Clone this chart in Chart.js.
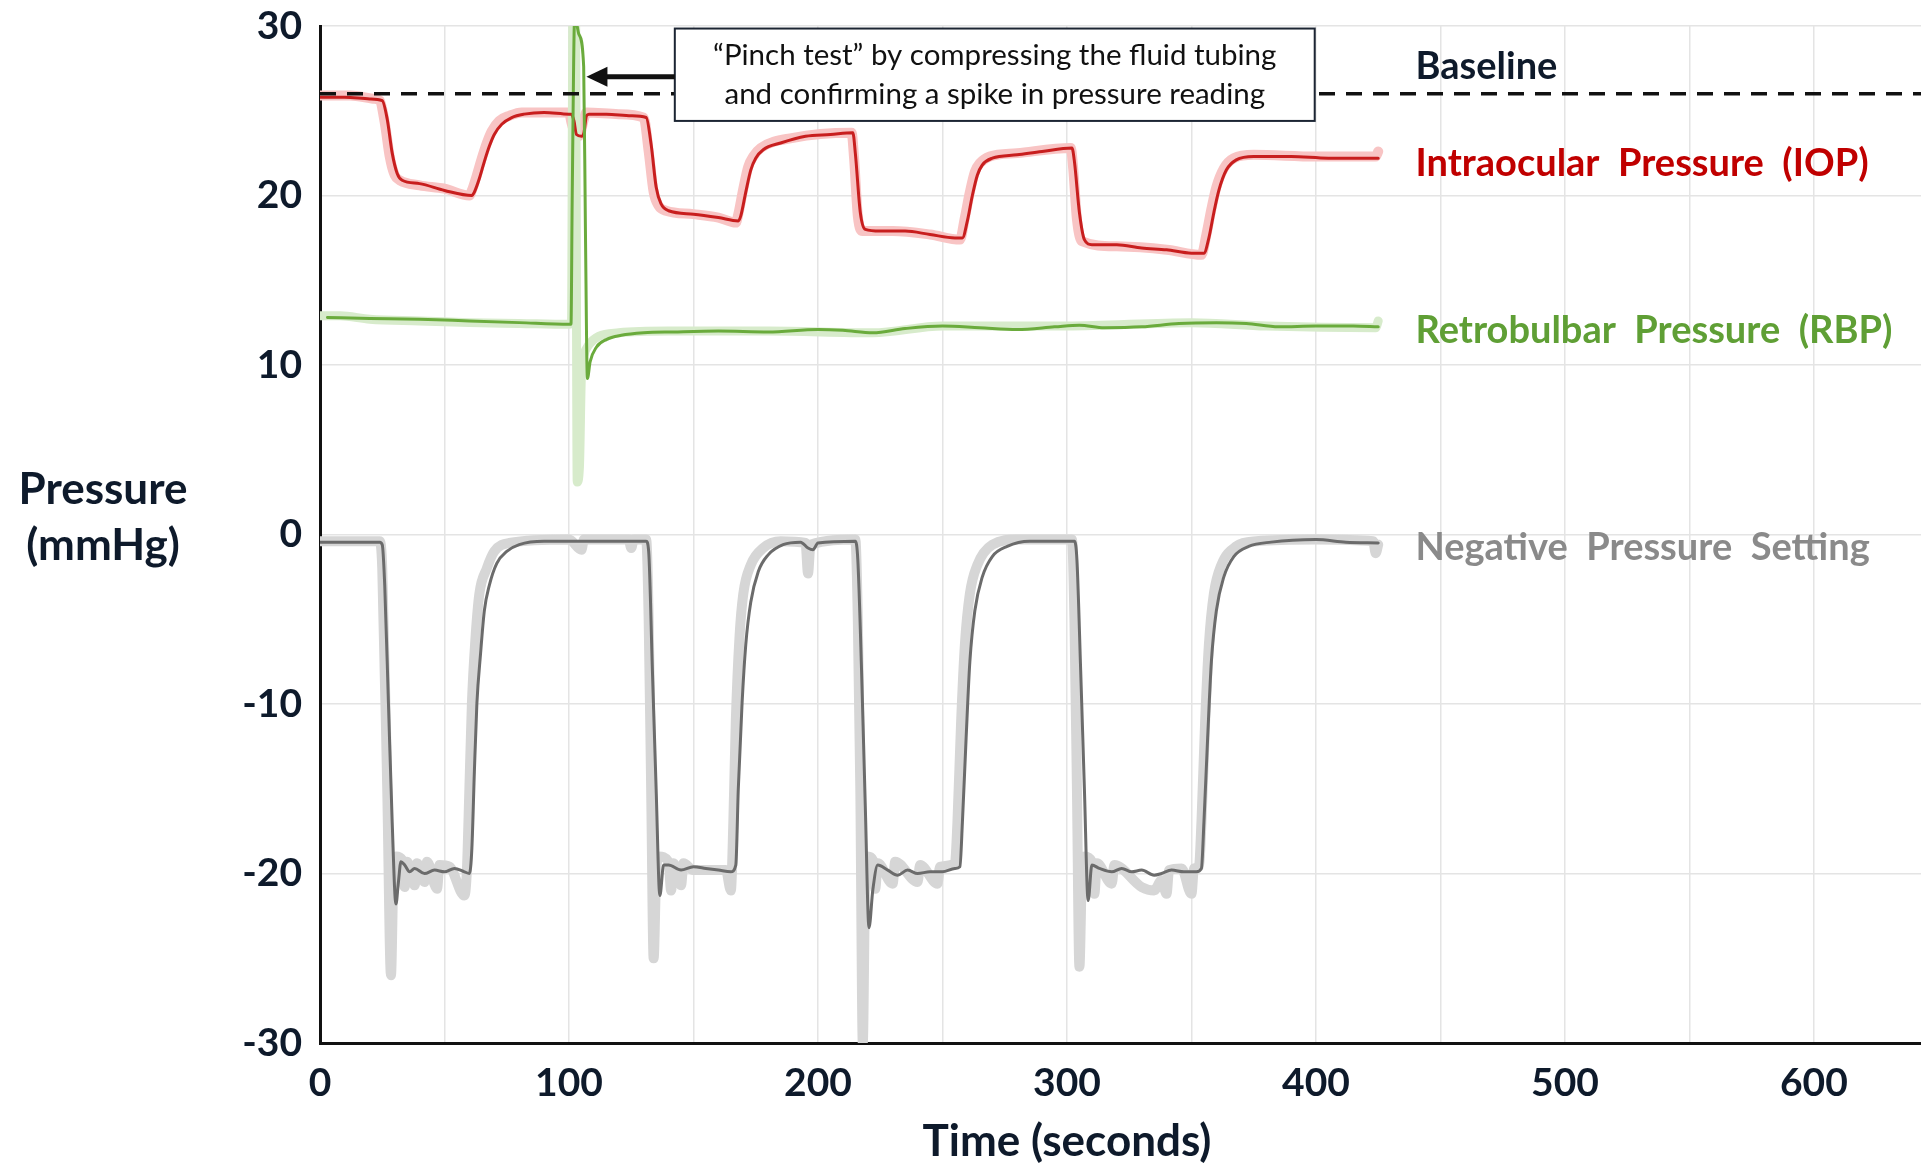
<!DOCTYPE html>
<html>
<head>
<meta charset="utf-8">
<script src="https://cdn.jsdelivr.net/npm/chart.js@4.4.0/dist/chart.umd.min.js"></script>
<style>
  html, body { margin: 0; padding: 0; background: #fff; overflow: hidden; }
  #wrap { width: 1921px; height: 1165px; }
</style>
</head>
<body>
<div id="wrap"><canvas id="pressure_chart" width="1921" height="1165"></canvas></div>
<script>
//Intraocular pressure (filtered line)
const iopTime = [0, 10, 20, 25, 27, 29, 31, 33, 40, 50,
  61, 62, 64, 66, 68, 70, 73, 77, 82, 90,
  100, 101, 102, 103, 105, 106, 107, 108, 115, 125,
  131, 133, 135, 137, 140, 150, 160, 168, 169, 171,
  173, 175, 178, 185, 195, 205, 214, 215, 217, 219,
  225, 235, 245, 255, 258, 260, 262, 264, 266, 270,
  280, 290, 302, 303, 305, 307, 310, 320, 330, 340,
  350, 355, 357, 359, 361, 364, 368, 375, 390, 405,
  425];
const iopVal = [25.8, 25.8, 25.7, 25.6, 24.5, 22.5, 21.3, 20.9, 20.7, 20.3,
  20.0, 20.2, 21.0, 22.0, 22.9, 23.6, 24.2, 24.6, 24.8, 24.9,
  24.8, 24.8, 24.4, 23.6, 23.5, 23.7, 24.7, 24.8, 24.8, 24.7,
  24.6, 23.0, 20.5, 19.5, 19.1, 18.9, 18.7, 18.5, 18.8, 20.2,
  21.5, 22.2, 22.7, 23.1, 23.5, 23.6, 23.7, 22.5, 19.0, 18.0,
  17.9, 17.9, 17.7, 17.5, 17.5, 18.5, 20.0, 21.2, 21.8, 22.2,
  22.4, 22.6, 22.8, 22.0, 19.0, 17.4, 17.1, 17.1, 16.9, 16.8,
  16.6, 16.6, 17.5, 19.0, 20.3, 21.5, 22.1, 22.3, 22.3, 22.2,
  22.2];

//Intraocular pressure (raw trace)
const iopRawTime = [0, 12, 22, 24, 26, 28, 30, 32, 40, 50,
  60, 61, 63, 65, 67, 69, 72, 76, 81, 100,
  101, 102, 104, 106, 107, 120, 130, 132, 134, 136,
  139, 150, 160, 167, 168, 170, 172, 174, 177, 190,
  213.5, 214.5, 216, 218, 230, 245, 257, 259, 261, 263,
  265, 269, 280, 301.5, 302.5, 304, 306, 320, 340, 354,
  356, 358, 360, 363, 367, 375, 400, 424, 425];
const iopRawVal = [25.9, 25.9, 25.7, 25.6, 24.3, 22.3, 21.2, 20.9, 20.6, 20.4,
  20.0, 20.3, 21.2, 22.2, 23.1, 23.8, 24.4, 24.7, 24.9, 24.9,
  24.3, 23.8, 23.5, 24.5, 24.9, 24.8, 24.6, 22.6, 20.2, 19.4,
  19.1, 18.9, 18.7, 18.4, 18.9, 20.4, 21.7, 22.3, 22.8, 23.4,
  23.7, 22.2, 18.8, 17.9, 17.9, 17.7, 17.4, 18.7, 20.2, 21.4,
  21.9, 22.3, 22.5, 22.8, 21.6, 18.6, 17.3, 17.0, 16.8, 16.5,
  17.7, 19.2, 20.5, 21.6, 22.2, 22.4, 22.3, 22.3, 22.6];

//Retrobulbar pressure (filtered line)
const rbpTime = [3, 20, 40, 60, 80, 100, 100.8, 101.3, 102.3, 104,
  105.9, 106.6, 107.4, 108.5, 111, 115, 121, 130, 142, 160,
  180, 200, 210, 222, 235, 250, 265, 280, 295, 305,
  315, 330, 345, 360, 372, 385, 400, 415, 425];
const rbpVal = [12.8, 12.75, 12.7, 12.6, 12.5, 12.4, 12.4, 20, 30.6, 29.5,
  27.6, 18, 9.2, 10.2, 11.05, 11.5, 11.75, 11.9, 11.95, 12.0,
  11.95, 12.1, 12.05, 11.9, 12.15, 12.3, 12.2, 12.1, 12.25, 12.35,
  12.2, 12.25, 12.45, 12.5, 12.45, 12.25, 12.3, 12.3, 12.25];

//Retrobulbar pressure (raw trace)
const rbpRawTime = [0, 8, 20, 40, 60, 80, 100, 101, 101.6, 102.6,
  103.3, 104.2, 105, 106, 108, 112, 120, 140, 180, 222,
  250, 300, 350, 380, 424, 425];
const rbpRawVal = [12.9, 12.9, 12.7, 12.6, 12.5, 12.45, 12.4, 12.5, 31, 31,
  3.1, 4, 9.5, 10.6, 11.2, 11.7, 11.9, 12.0, 12.0, 11.9,
  12.3, 12.3, 12.5, 12.3, 12.2, 12.6];

//Negative pressure setting (filtered line)
const negTime = [0, 10, 24, 25, 26, 27.5, 29, 30.5, 31.5, 32.5,
  34, 36, 38, 42, 46, 50, 54, 58, 60, 61,
  62, 63, 64.5, 66, 68, 71, 75, 80, 90, 110,
  131, 132, 133.5, 135, 136.5, 138, 140, 145, 150, 155,
  160, 165, 167, 168, 169.5, 171, 173, 176, 180, 186,
  193, 196, 198, 200, 215, 216, 217.5, 219, 220.5, 222,
  224, 228, 232, 236, 240, 245, 250, 255, 257, 258,
  259.5, 261, 263, 266, 270, 276, 285, 303, 304, 305.5,
  307, 308.5, 310, 313, 318, 322, 326, 330, 335, 338,
  342, 347, 352, 354, 355, 356.5, 358, 360, 363, 367,
  373, 382, 400, 412, 425];
const negVal = [-0.45, -0.45, -0.45, -0.6, -3, -10, -17, -21.8, -20.5, -19.3,
  -19.5, -19.9, -19.7, -20.0, -19.8, -19.9, -19.7, -19.9, -20.0, -18.5,
  -14, -10, -7, -4.5, -3, -1.7, -1.0, -0.6, -0.4, -0.4,
  -0.4, -1.0, -8, -15, -21.3, -19.5, -19.5, -19.8, -19.6, -19.7,
  -19.8, -19.9, -19.5, -15, -10, -6.5, -4, -2.2, -1.2, -0.6,
  -0.45, -0.8, -0.9, -0.5, -0.4, -1.5, -8, -16, -23.2, -21,
  -19.5, -19.8, -20.1, -19.8, -20.0, -19.9, -19.9, -19.7, -19.6, -17,
  -12, -7.5, -4.5, -2.5, -1.3, -0.7, -0.4, -0.4, -1.5, -8,
  -15, -21.6, -19.5, -19.7, -19.9, -19.7, -19.9, -19.8, -20.1, -20.0,
  -19.8, -19.9, -19.9, -19.7, -17, -12, -7.5, -4.5, -2.5, -1.3,
  -0.7, -0.45, -0.3, -0.45, -0.5];

//Negative pressure setting (raw trace)
const negRawTime = [0, 24, 25, 27, 28.5, 29.5, 30.5, 33, 34, 35,
  38, 39, 42, 43, 47, 48, 52, 58, 59, 60,
  61, 62.5, 64, 67, 70, 76, 100, 105, 106, 124,
  125, 126, 131, 132, 133, 134, 135, 136, 140, 141,
  142, 145, 146, 150, 163, 165, 166, 167, 168.5, 170,
  173, 178, 185, 195, 196, 197, 215, 216, 217, 218,
  219, 220, 222, 223, 224, 230, 231, 240, 241, 248,
  249, 255, 256, 257.5, 259, 261, 264, 270, 280, 302,
  303, 304, 305, 306, 307, 310, 311, 312, 318, 319,
  330, 335, 338, 340, 341, 346, 350, 351, 353, 354,
  355.5, 357, 359, 362, 368, 376, 400, 423, 424, 425];
const negRawVal = [-0.4, -0.4, -2, -15, -26, -20, -19, -19.2, -20.8, -19.3,
  -20.7, -19.4, -20.5, -19.3, -20.9, -19.5, -19.6, -21.3, -19.8, -15,
  -10, -6, -3.5, -2, -1, -0.5, -0.3, -0.9, -0.3, -0.3,
  -0.8, -0.3, -0.3, -5, -15, -25, -20, -19, -19.3, -21,
  -19.4, -20.7, -19.4, -19.8, -19.8, -21, -17, -11, -6, -3.5,
  -1.8, -0.8, -0.4, -0.5, -2.3, -0.6, -0.3, -5, -15, -30,
  -20, -19, -19.2, -20.9, -19.4, -20.6, -19.3, -20.5, -19.5, -20.6,
  -19.6, -19.4, -17, -11, -6.5, -3.5, -1.8, -0.6, -0.3, -0.3,
  -5, -15, -25.5, -20, -19, -19.3, -21.2, -19.4, -20.6, -19.5,
  -20.8, -21, -20.4, -21.2, -19.8, -19.7, -21.2, -19.7, -19.6, -17,
  -11, -6.5, -3.5, -1.8, -0.7, -0.4, -0.3, -0.4, -1.1, -0.6];

//Baseline (dashed)
const baseTime = [0, 650];
const baseVal = [26, 26];

//Labels
const seriesLabels = ["Baseline", "Intraocular  Pressure  (IOP)", "Retrobulbar  Pressure  (RBP)", "Negative  Pressure  Setting"];
const labelLevels = [27.6, 21.9, 12.0, -0.8];
const labelColors = ["#0e1a2b", "#c00000", "#5f9f35", "#8a8a8a"];
const noteLines = ["\u201cPinch test\u201d by compressing the fluid tubing", "and confirming a spike in pressure reading"];

//------------------------------------------

const FONT = 'Lato, "Open Sans", sans-serif';
const INK = '#0e1a2b';

const pts = (t, v) => t.map((x, i) => ({x: x, y: v[i]}));

const lineDs = (label, t, v, color, width, order) => ({
  label: label, data: pts(t, v), borderColor: color, backgroundColor: color,
  borderWidth: width, pointRadius: 0, fill: false, order: order,
  cubicInterpolationMode: 'monotone', borderJoinStyle: 'round', borderCapStyle: 'round', clip: 0
});

//overlay plugin: axis titles, series labels, note box and arrow
const overlay = {
  id: 'overlay',
  afterDraw(chart) {
    const {ctx, scales: {x, y}} = chart;
    ctx.save();

    ctx.fillStyle = INK;
    ctx.textAlign = 'center';
    ctx.textBaseline = 'middle';
    ctx.font = 'bold 44px ' + FONT;
    ctx.fillText('Pressure', 103, 490);
    ctx.fillText('(mmHg)', 103, 546);
    ctx.fillText('Time (seconds)', x.getPixelForValue(300), 1142);

    ctx.textAlign = 'left';
    ctx.font = 'bold 38px ' + FONT;
    seriesLabels.forEach((s, i) => {
      ctx.fillStyle = labelColors[i];
      ctx.fillText(s, x.getPixelForValue(440), y.getPixelForValue(labelLevels[i]));
    });

    //note box
    const bl = x.getPixelForValue(142.5), br = x.getPixelForValue(399.5);
    const bt = y.getPixelForValue(29.85), bb = y.getPixelForValue(24.4);
    ctx.fillStyle = '#fff';
    ctx.fillRect(bl, bt, br - bl, bb - bt);
    ctx.strokeStyle = '#1c2533';
    ctx.lineWidth = 2;
    ctx.strokeRect(bl, bt, br - bl, bb - bt);
    ctx.fillStyle = '#111';
    ctx.textAlign = 'center';
    ctx.font = '29.5px ' + FONT;
    ctx.fillText(noteLines[0], (bl + br) / 2, bt + 27);
    ctx.fillText(noteLines[1], (bl + br) / 2, bt + 66);

    //arrow
    const ay = y.getPixelForValue(27.0), tip = x.getPixelForValue(107);
    ctx.strokeStyle = '#111';
    ctx.lineWidth = 5;
    ctx.beginPath();
    ctx.moveTo(bl, ay);
    ctx.lineTo(tip + 18, ay);
    ctx.stroke();
    ctx.fillStyle = '#111';
    ctx.beginPath();
    ctx.moveTo(tip, ay);
    ctx.lineTo(tip + 21, ay - 10);
    ctx.lineTo(tip + 21, ay + 10);
    ctx.closePath();
    ctx.fill();

    ctx.restore();
  }
};

//------------------------------------------

const config = {
  type: 'line',
  data: {
    datasets: [
      {...lineDs('Baseline', baseTime, baseVal, '#111', 3.5, 0), borderDash: [16, 11], borderCapStyle: 'butt', cubicInterpolationMode: 'default'},
      lineDs('RBP', rbpTime, rbpVal, '#6aab3c', 3, 1),
      lineDs('IOP', iopTime, iopVal, '#c81e1e', 3, 2),
      lineDs('Negative pressure', negTime, negVal, '#6b6b6b', 3, 2),
      lineDs('RBP raw', rbpRawTime, rbpRawVal, '#d7ebcb', 9, 3),
      lineDs('IOP raw', iopRawTime, iopRawVal, '#f8c4c4', 10, 3),
      lineDs('Negative raw', negRawTime, negRawVal, '#d6d6d6', 10, 3)
    ]
  },
  options: {
    responsive: false,
    animation: false,
    layout: {autoPadding: false, padding: {top: 26, left: 0, right: 0, bottom: 0}},
    plugins: {legend: {display: false}, tooltip: {enabled: false}},
    scales: {
      x: {
        type: 'linear', min: 0, max: 643,
        ticks: {
          stepSize: 50, includeBounds: false, autoSkip: false, maxRotation: 0, padding: 17,
          color: INK, font: {family: FONT, size: 39, weight: 'bold'},
          callback: v => (v % 100 === 0 ? v : '')
        },
        grid: {color: '#e4e4e4', lineWidth: 1.5, drawTicks: false},
        border: {color: '#111', width: 3},
        afterFit(scale) { scale.height = 122; scale.paddingLeft = 0; scale.paddingRight = 0; }
      },
      y: {
        type: 'linear', min: -30, max: 30,
        ticks: {stepSize: 10, padding: 18, color: INK, font: {family: FONT, size: 39, weight: 'bold'}},
        grid: {color: '#e4e4e4', lineWidth: 1.5, drawTicks: false},
        border: {color: '#111', width: 3},
        afterFit(scale) { scale.width = 320; scale.paddingTop = 0; scale.paddingBottom = 0; }
      }
    }
  },
  plugins: [overlay]
};

//Render chart
const pressure_chart = new Chart(document.getElementById('pressure_chart'), config);
</script>
</body>
</html>
